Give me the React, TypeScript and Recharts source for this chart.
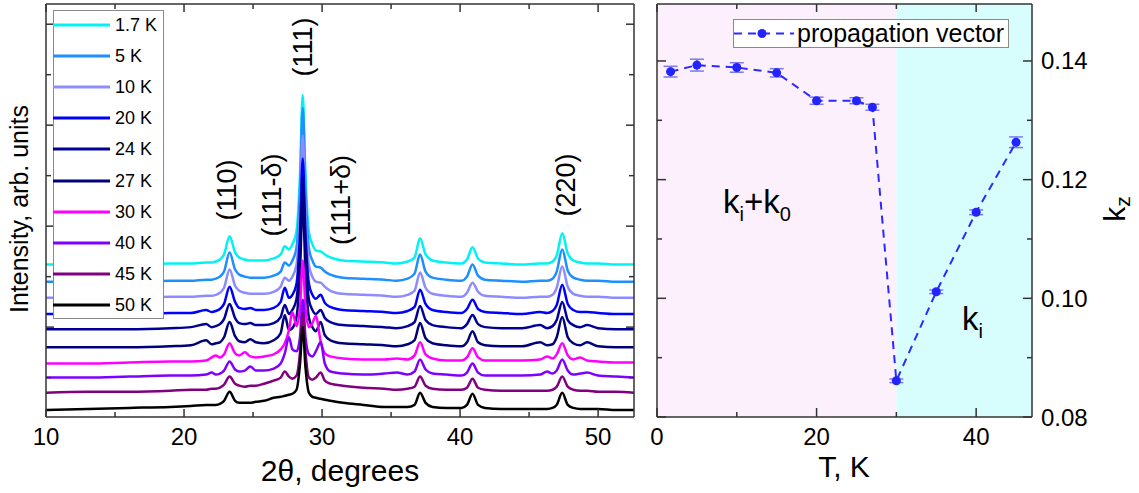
import React from "react";
import { ComposedChart, Line, XAxis, YAxis, ReferenceArea, ErrorBar } from "recharts";

const FONT = "'Liberation Sans', Arial, Helvetica, sans-serif";
const AXIS = "#333333";

// ---------- left panel: diffraction patterns ----------
const TWO_THETA = [
  10, 13, 16, 19, 20.5,
  21.6, 22.0, 22.3, 22.6, 22.9,
  23.3, 23.7, 24.0, 24.4, 24.8,
  25.2, 25.8, 26.5, 27.0, 27.3,
  27.6, 27.85, 28.15, 28.4, 28.6,
  28.8, 29.05, 29.3, 29.55, 29.9,
  30.2, 30.6, 31.5, 33, 34.5,
  35.4, 36.2, 36.7, 37.1, 37.5,
  38.0, 39, 40.1, 40.5, 40.9,
  41.3, 41.8, 43, 44.5, 45.8,
  46.3, 46.7, 47.0, 47.4, 47.8,
  48.2, 48.7, 49.2, 50, 51.3,
  52.6,
];

const TEMP_LABELS = ["1.7 K", "5 K", "10 K", "20 K", "24 K", "27 K", "30 K", "40 K", "45 K", "50 K"];
const LINE_COLORS = ["#00f2f2", "#1e8fff", "#8c8cff", "#0000ff", "#000099", "#00007a", "#ff00ff", "#8000ff", "#800080", "#000000"];
// vertical shift of each pattern (arb. units)
const OFFSETS = [112, 95, 79, 63, 48, 30, 14, 0, -15, -32];

const I_1_7K = [
  0, 0, 0, 1, 1, 2, 2, 3, 5, 10, 28, 12, 7, 5, 4, 4, 4, 6, 10, 18,
  15, 20, 33, 88, 168, 88, 32, 20, 14, 13, 10, 7, 4, 3, 2, 1, 3, 7, 26, 10,
  4, 2, 1, 5, 17, 6, 2, 1, 0, 1, 1, 3, 9, 31, 11, 4, 2, 1, 1, 0, 0,
];
const I_5K = [
  0, 0, 0, 1, 1, 2, 2, 3, 5, 10, 29, 12, 7, 5, 4, 4, 4, 6, 10, 19,
  16, 21, 34, 90, 172, 90, 33, 21, 15, 14, 10, 7, 4, 3, 2, 1, 3, 8, 27, 10,
  4, 2, 1, 5, 17, 6, 2, 1, 0, 1, 1, 3, 10, 32, 11, 4, 2, 1, 1, 0, 0,
];
const I_10K = [
  0, 0, 0, 1, 1, 2, 2, 3, 5, 10, 28, 12, 7, 5, 4, 4, 4, 6, 11, 20,
  17, 21, 33, 85, 161, 85, 32, 21, 16, 15, 11, 7, 4, 3, 2, 1, 3, 7, 25, 10,
  4, 2, 1, 5, 15, 6, 2, 1, 0, 1, 1, 3, 10, 31, 11, 4, 2, 1, 1, 0, 0,
];
const I_20K = [
  0, 0, 0, 1, 1, 4, 2, 3, 5, 10, 27, 12, 6, 5, 6, 4, 4, 6, 12, 26,
  16, 19, 30, 80, 154, 80, 30, 19, 15, 19, 11, 7, 4, 3, 2, 1, 3, 7, 24, 10,
  4, 2, 1, 5, 14, 5, 2, 1, 0, 2, 1, 3, 9, 29, 10, 4, 2, 2, 1, 0, 0,
];
const I_24K = [
  0, 0, 0, 1, 2, 5, 2, 3, 5, 10, 25, 11, 6, 5, 6, 4, 4, 6, 12, 24,
  15, 19, 30, 78, 150, 78, 29, 19, 15, 19, 11, 7, 4, 3, 2, 1, 3, 7, 23, 9,
  4, 2, 1, 5, 14, 5, 2, 1, 1, 4, 1, 3, 9, 27, 9, 4, 2, 4, 1, 0, 0,
];
const I_27K = [
  0, 0, 0, 1, 2, 7, 3, 4, 5, 10, 25, 11, 6, 5, 8, 5, 4, 7, 14, 32,
  17, 19, 30, 75, 144, 75, 29, 20, 16, 25, 12, 7, 4, 3, 2, 1, 3, 7, 24, 9,
  4, 2, 1, 5, 16, 5, 2, 1, 1, 5, 2, 3, 10, 30, 10, 4, 2, 5, 1, 0, 0,
];
const I_30K = [
  0, 0, 1, 2, 2, 3, 6, 8, 6, 9, 20, 10, 8, 11, 7, 6, 7, 9, 14, 20,
  33, 51, 37, 55, 102, 55, 36, 40, 47, 22, 10, 7, 5, 4, 4, 5, 4, 8, 21, 9,
  5, 3, 3, 6, 15, 6, 3, 3, 3, 4, 7, 5, 9, 20, 8, 4, 6, 3, 2, 1, 1,
];
const I_40K = [
  0, 0, 1, 2, 2, 3, 5, 3, 4, 7, 16, 8, 6, 7, 11, 7, 7, 9, 14, 24,
  40, 28, 26, 40, 77, 40, 23, 21, 26, 35, 14, 6, 4, 3, 4, 5, 3, 6, 18, 8,
  4, 3, 2, 5, 14, 5, 2, 2, 2, 3, 6, 4, 7, 18, 7, 3, 4, 5, 2, 1, 0,
];
const I_45K = [
  0, 1, 1, 2, 3, 3, 4, 4, 5, 8, 16, 9, 7, 6, 7, 7, 9, 12, 15, 21,
  16, 14, 17, 40, 80, 40, 15, 13, 15, 20, 12, 9, 7, 5, 4, 3, 4, 6, 16, 7,
  4, 3, 3, 5, 14, 5, 3, 2, 2, 2, 2, 3, 6, 16, 6, 3, 2, 2, 1, 1, 0,
];
const I_50K = [
  0, 1, 2, 3, 4, 5, 5, 5, 6, 9, 18, 9, 7, 7, 7, 8, 9, 12, 13, 14,
  15, 16, 20, 45, 82, 42, 17, 13, 12, 11, 10, 9, 7, 5, 3, 3, 3, 5, 17, 7,
  3, 2, 2, 5, 16, 5, 2, 1, 1, 1, 1, 2, 5, 17, 5, 2, 1, 1, 1, 0, 0,
];
const PATTERNS = [I_1_7K, I_5K, I_10K, I_20K, I_24K, I_27K, I_30K, I_40K, I_45K, I_50K];

const THETA_TICKS = [10, 15, 20, 25, 30, 35, 40, 45, 50];
const INT_TICKS = [0, 50, 100, 150, 200, 250, 300, 350];

// ---------- right panel: propagation vector ----------
const T_K = [1.7, 5, 10, 15, 20, 25, 27, 30, 35, 40, 45];
const KZ = [0.1382, 0.1393, 0.1389, 0.138, 0.1333, 0.1333, 0.1322, 0.0861, 0.1011, 0.1145, 0.1263];
const KZ_ERR = [0.0009, 0.001, 0.0008, 0.0007, 0.0006, 0.0005, 0.0005, 0.0003, 0.0003, 0.0004, 0.0009];
const PHASE_EDGES = [0, 30, 47];
const PHASE_FILLS = ["#fdf0fd", "#d8fdfd"];
const T_TICKS = [0, 10, 20, 30, 40];
const KZ_TICKS = [0.08, 0.09, 0.1, 0.11, 0.12, 0.13, 0.14];

const diffRows = TWO_THETA.map((x, i) => {
  const row: Record<string, number> = { x };
  PATTERNS.forEach((p, s) => {
    row[`s${s}`] = OFFSETS[s] + p[i];
  });
  return row;
});

const kRows = T_K.map((t, i) => ({ t, kz: KZ[i], err: KZ_ERR[i] }));

type Side = "bottom" | "top" | "left" | "right";

// inward tick marks, labels outside (bottom / right only)
const makeTick =
  (side: Side, isMajor: (v: number) => boolean, major: number, minor: number, fmt?: (v: number) => string) =>
  (props: any) => {
    const { x, y, payload } = props;
    const v = payload.value;
    const len = isMajor(v) ? major : minor;
    let d = [x, y, x, y - len];
    if (side === "top") d = [x, y, x, y + len];
    if (side === "left") d = [x, y, x + len, y];
    if (side === "right") d = [x, y, x - len, y];
    const txt = fmt && isMajor(v) ? fmt(v) : null;
    return (
      <g>
        <line x1={d[0]} y1={d[1]} x2={d[2]} y2={d[3]} stroke={AXIS} strokeWidth={1.5} />
        {txt !== null && side === "bottom" && (
          <text x={x} y={y + 28} textAnchor="middle" fontSize={24} fontFamily={FONT} fill="#000">
            {txt}
          </text>
        )}
        {txt !== null && side === "right" && (
          <text x={x + 9} y={y + 8.5} textAnchor="start" fontSize={24} fontFamily={FONT} fill="#000">
            {txt}
          </text>
        )}
      </g>
    );
  };

const frame = { stroke: AXIS, strokeWidth: 1.5 };
const thetaMajor = (v: number) => v % 10 === 0;
const intMajor = (v: number) => v % 100 === 50;
const tMajor = (v: number) => v % 20 === 0;
const kzMajor = (v: number) => Math.round(v * 100) % 2 === 0;

// axes are 1px thick so they still render; margins are trimmed by 1px to compensate.
// The top/right axes get an invisible copy of a series so their scales are resolved.
const DiffractionPanel = () => (
  <ComposedChart width={640} height={493} data={diffRows} margin={{ top: 3, right: 5, bottom: 75, left: 45 }}>
    <XAxis xAxisId="b" dataKey="x" type="number" domain={[10, 52.6]} allowDataOverflow ticks={THETA_TICKS} interval={0}
      height={1} tickSize={0} tickMargin={0} tickLine={false} axisLine={frame}
      tick={makeTick("bottom", thetaMajor, 8, 5, (v) => String(v))} />
    <XAxis xAxisId="t" orientation="top" dataKey="x" type="number" domain={[10, 52.6]} allowDataOverflow ticks={THETA_TICKS} interval={0}
      height={1} tickSize={0} tickMargin={0} tickLine={false} axisLine={frame}
      tick={makeTick("top", thetaMajor, 8, 5)} />
    <YAxis yAxisId="l" type="number" domain={[-39, 370]} allowDataOverflow ticks={INT_TICKS} interval={0}
      width={1} tickSize={0} tickMargin={0} tickLine={false} axisLine={frame}
      tick={makeTick("left", intMajor, 8, 5)} />
    <YAxis yAxisId="r" orientation="right" type="number" domain={[-39, 370]} allowDataOverflow ticks={INT_TICKS} interval={0}
      width={1} tickSize={0} tickMargin={0} tickLine={false} axisLine={frame}
      tick={makeTick("right", intMajor, 8, 5)} />
    <Line xAxisId="t" yAxisId="r" dataKey="s0" stroke="none" dot={false} activeDot={false} legendType="none" isAnimationActive={false} />
    {PATTERNS.map((_, s) => (
      <Line key={s} xAxisId="b" yAxisId="l" type="monotone" dataKey={`s${s}`} stroke={LINE_COLORS[s]}
        strokeWidth={2.5} dot={false} activeDot={false} isAnimationActive={false} />
    ))}
  </ComposedChart>
);

const PropagationPanel = () => (
  <ComposedChart width={499} height={493} data={kRows} margin={{ top: 3, right: 106, bottom: 75, left: 16 }}>
    <XAxis xAxisId="b" dataKey="t" type="number" domain={[0, 47]} allowDataOverflow ticks={T_TICKS} interval={0}
      height={1} tickSize={0} tickMargin={0} tickLine={false} axisLine={frame}
      tick={makeTick("bottom", tMajor, 9, 5, (v) => String(v))} />
    <XAxis xAxisId="t" orientation="top" dataKey="t" type="number" domain={[0, 47]} allowDataOverflow ticks={T_TICKS} interval={0}
      height={1} tickSize={0} tickMargin={0} tickLine={false} axisLine={frame}
      tick={makeTick("top", tMajor, 8, 5)} />
    <YAxis yAxisId="l" type="number" domain={[0.08, 0.1496]} allowDataOverflow ticks={KZ_TICKS} interval={0}
      width={1} tickSize={0} tickMargin={0} tickLine={false} axisLine={frame}
      tick={makeTick("left", kzMajor, 9, 5)} />
    <YAxis yAxisId="r" orientation="right" type="number" domain={[0.08, 0.1496]} allowDataOverflow ticks={KZ_TICKS} interval={0}
      width={1} tickSize={0} tickMargin={0} tickLine={false} axisLine={frame}
      tick={makeTick("right", kzMajor, 9, 5, (v) => v.toFixed(2))} />
    {PHASE_FILLS.map((fill, i) => (
      <ReferenceArea key={i} xAxisId="b" yAxisId="l" x1={PHASE_EDGES[i]} x2={PHASE_EDGES[i + 1]}
        fill={fill} fillOpacity={1} stroke="none" ifOverflow="hidden" />
    ))}
    <Line xAxisId="t" yAxisId="r" dataKey="kz" stroke="none" dot={false} activeDot={false} legendType="none" isAnimationActive={false} />
    <Line xAxisId="b" yAxisId="l" type="linear" dataKey="kz" stroke="#2a2aff" strokeWidth={2}
      strokeDasharray="8 6" dot={{ r: 4.5, fill: "#2323ff", stroke: "#2323ff", strokeWidth: 0 }}
      activeDot={false} isAnimationActive={false}>
      <ErrorBar dataKey="err" direction="y" width={7} stroke="#7a7aee" strokeWidth={1.5} isAnimationActive={false} />
    </Line>
  </ComposedChart>
);

const PEAK_LABELS = [
  { text: "(110)", x: 227, y: 190 },
  { text: "(111-δ)", x: 272, y: 195 },
  { text: "(111)", x: 303, y: 47 },
  { text: "(111+δ)", x: 341, y: 200 },
  { text: "(220)", x: 566, y: 185 },
];

export default function App() {
  return (
    <div style={{ position: "absolute", left: 0, top: 0, width: 1139, height: 493, background: "#fff", fontFamily: FONT }}>
      <div style={{ position: "absolute", left: 0, top: 0 }}>
        <DiffractionPanel />
      </div>
      <div style={{ position: "absolute", left: 640, top: 0 }}>
        <PropagationPanel />
      </div>

      {/* temperature legend */}
      <div style={{ position: "absolute", left: 53, top: 10, width: 109, height: 307, border: "1px solid #8a8a8a", background: "#fff" }}>
        {TEMP_LABELS.map((lab, i) => (
          <div key={lab} style={{ position: "absolute", left: -1, top: 14 + i * 31.1 - 12, height: 24, width: 110 }}>
            <svg width={58} height={24} style={{ position: "absolute", left: 0, top: 0 }}>
              <line x1={0} x2={57} y1={12} y2={12} stroke={LINE_COLORS[i]} strokeWidth={3} />
            </svg>
            <span style={{ position: "absolute", left: 62, top: 0, lineHeight: "24px", fontSize: 18, color: "#000", whiteSpace: "nowrap" }}>
              {lab}
            </span>
          </div>
        ))}
      </div>

      {/* propagation legend */}
      <div style={{ position: "absolute", left: 733, top: 19, width: 274, height: 27, border: "1px solid #8a8a8a", background: "#fff" }}>
        <svg width={62} height={27} style={{ position: "absolute", left: 0, top: 0 }}>
          <line x1={0} x2={60} y1={13.5} y2={13.5} stroke="#2a2aff" strokeWidth={2} strokeDasharray="8 6" />
          <circle cx={28} cy={13.5} r={4.5} fill="#2323ff" />
        </svg>
        <span style={{ position: "absolute", left: 63, top: -1, lineHeight: "28px", fontSize: 25, color: "#000", whiteSpace: "nowrap" }}>
          propagation vector
        </span>
      </div>

      <svg width={1139} height={493} style={{ position: "absolute", left: 0, top: 0, pointerEvents: "none" }} fontFamily={FONT}>
        {PEAK_LABELS.map((p) => (
          <text key={p.text} transform={`translate(${p.x},${p.y}) rotate(-90)`} textAnchor="middle"
            dominantBaseline="central" fontSize={27} fill="#000">
            {p.text}
          </text>
        ))}
        <text transform="translate(28,209) rotate(-90)" textAnchor="middle" fontSize={25} fill="#000">
          Intensity, arb. units
        </text>
        <text x={340} y={481} textAnchor="middle" fontSize={30} fill="#000">
          2θ, degrees
        </text>
        <text x={844} y={477} textAnchor="middle" fontSize={30} fill="#000">
          T, K
        </text>
        <text transform="translate(1125,209) rotate(-90)" textAnchor="middle" fontSize={30} fill="#000">
          k<tspan fontSize={21} dy={5}>z</tspan>
        </text>
        <text x={723} y={213} fontSize={33} fill="#000">
          k<tspan fontSize={20} dy={8}>i</tspan>
          <tspan fontSize={33} dy={-8}>+k</tspan>
          <tspan fontSize={20} dy={8}>0</tspan>
        </text>
        <text x={962} y={330} fontSize={33} fill="#000">
          k<tspan fontSize={20} dy={8}>i</tspan>
        </text>
      </svg>
    </div>
  );
}
